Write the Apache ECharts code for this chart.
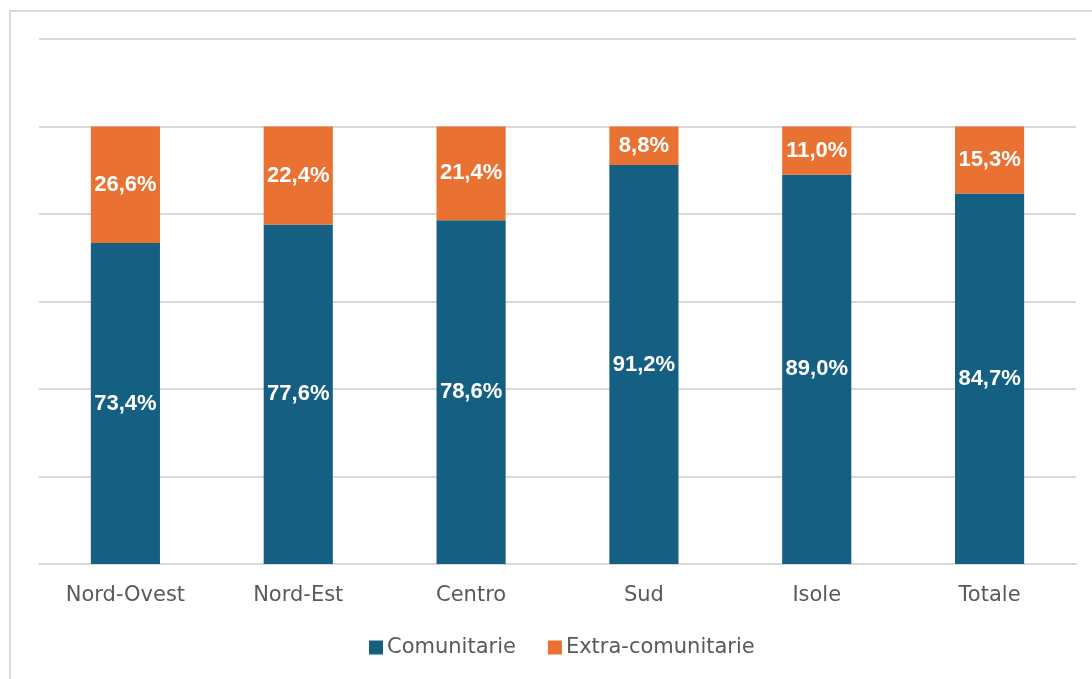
<!DOCTYPE html>
<html><head><meta charset="utf-8">
<script src="https://cdn.jsdelivr.net/npm/echarts@6/dist/echarts.min.js"></script>
<style>html,body{margin:0;padding:0;background:#fff}#c{width:1092px;height:679px}</style>
</head><body><div id="c"></div>
<script>
const categories = ['Nord-Ovest','Nord-Est','Centro','Sud','Isole','Totale'];
const comunitarie = [73.4, 77.6, 78.6, 91.2, 89.0, 84.7];
const extraComunitarie = [26.6, 22.4, 21.4, 8.8, 11.0, 15.3];
const seriesNames = ['Comunitarie','Extra-comunitarie'];

const fmt = p => p.value.toFixed(1).replace('.', ',') + '%';
const chart = echarts.init(document.getElementById('c'));
const labelStyle = {show:true, position:'inside', color:'#fff', fontFamily:'Liberation Sans', fontWeight:'bold', fontSize:22, formatter:fmt};
chart.setOption({
  animation:false,
  graphic:[{type:'rect', shape:{x:10,y:11,width:1200,height:800}, style:{fill:null, stroke:'#d9d9d9', lineWidth:2}, silent:true}],
  grid:{left:39, right:16, top:39, bottom:115},
  legend:{data:seriesNames, bottom:16, left:364, icon:'rect', itemWidth:14, itemHeight:14, itemGap:32,
    textStyle:{fontFamily:'DejaVu Sans', fontSize:21, color:'#595959', padding:[0,0,0,-1]}},
  xAxis:{type:'category', data:categories, axisTick:{show:false},
    axisLine:{lineStyle:{color:'#d9d9d9', width:2}},
    axisLabel:{fontFamily:'DejaVu Sans', fontSize:21, color:'#595959', margin:21}},
  yAxis:{type:'value', min:0, max:120, interval:20, axisLabel:{show:false}, axisLine:{show:false}, axisTick:{show:false},
    splitLine:{lineStyle:{color:'#d9d9d9', width:2}}},
  series:[
    {name:seriesNames[0], type:'bar', stack:'a', data:comunitarie, barCategoryGap:'60%', itemStyle:{color:'#156082'}, label:labelStyle},
    {name:seriesNames[1], type:'bar', stack:'a', data:extraComunitarie, barCategoryGap:'60%', itemStyle:{color:'#E97132'}, label:labelStyle}
  ]
});
</script></body></html>
